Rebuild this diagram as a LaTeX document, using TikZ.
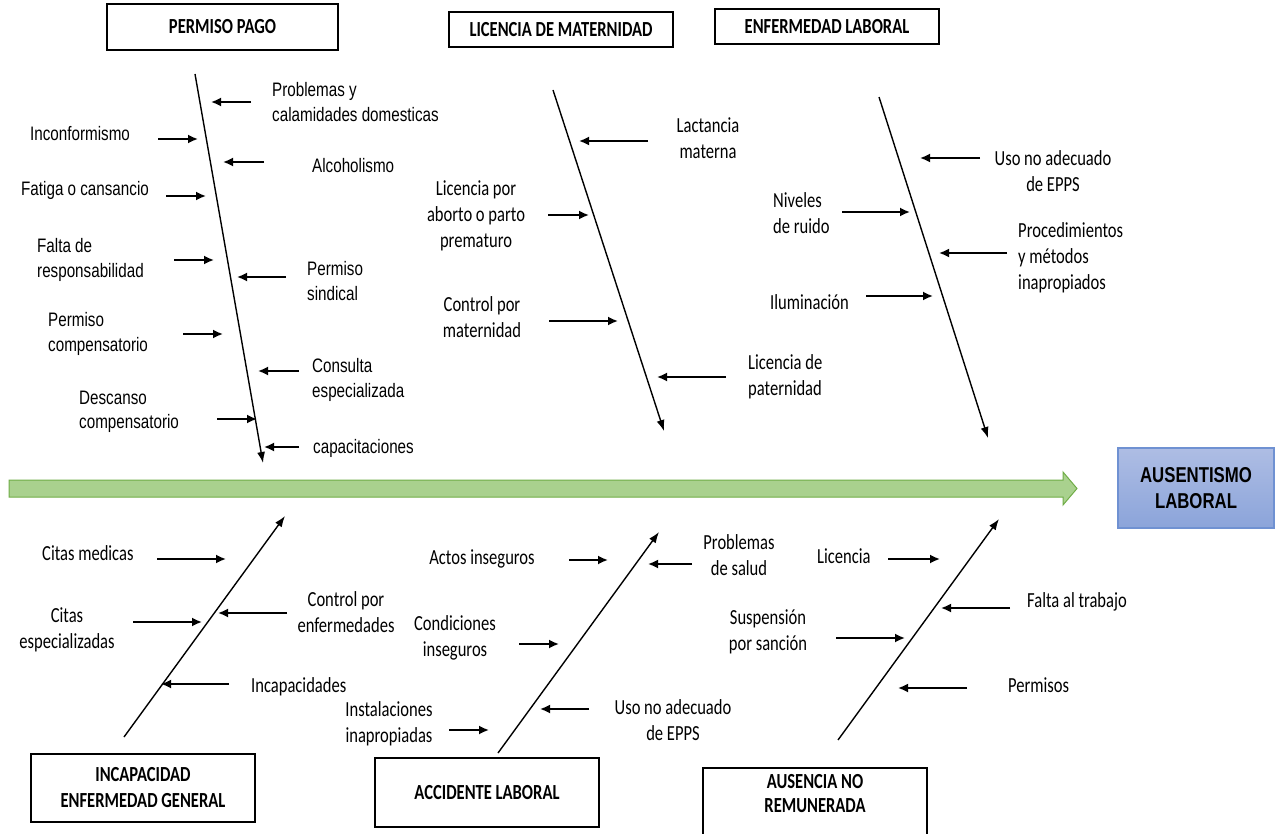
\documentclass[tikz,border=0pt]{standalone}
\usepackage{fontspec}
\setmainfont{Carlito}[FakeStretch=0.77]
\newfontfamily\arialf{Liberation Sans}[FakeStretch=0.78]
\usetikzlibrary{arrows.meta}
\definecolor{barfill}{HTML}{A9D18E}
\definecolor{barline}{HTML}{70AD47}
\definecolor{bluetop}{HTML}{AEBDE4}
\definecolor{bluebot}{HTML}{8BA4DA}
\definecolor{blueline}{HTML}{6F91D2}
\tikzset{
  lblA/.style={font=\arialf\fontsize{19.5}{24.5}\selectfont, inner sep=0pt, align=left},
  lblC/.style={font=\fontsize{21.5}{26}\selectfont, inner sep=0pt, align=center},
  catbox/.style={draw=black, line width=1.8pt, font=\bfseries\fontsize{21.5}{26}\selectfont, align=center, inner sep=0pt},
  spine/.style={line width=1.4pt, -{Latex[length=11pt,width=8pt]}},
  branch/.style={line width=1.8pt, -{Latex[length=10pt,width=9pt]}},
}
\begin{document}
\begin{tikzpicture}[x=1pt,y=-1pt]
\useasboundingbox (0,0) rectangle (1277,834);
\fill[white] (0,0) rectangle (1277,834);

% category boxes
\node[catbox, minimum width=231, minimum height=46] (pp) at (222.5,27) {PERMISO PAGO};
\node[catbox, minimum width=224, minimum height=35] (lm) at (561,29.5) {LICENCIA DE MATERNIDAD};
\node[catbox, minimum width=224, minimum height=35] (el) at (827,26.5) {ENFERMEDAD LABORAL};
\node[catbox, minimum width=224, minimum height=68] (ieg) at (143,788) {INCAPACIDAD\\ENFERMEDAD GENERAL};
\node[catbox, minimum width=224, minimum height=69] (al) at (487,792.5) {ACCIDENTE LABORAL};
\node[catbox, minimum width=224, minimum height=95, anchor=north] (anr) at (815,767) {};
\node[font=\bfseries\fontsize{21.5}{24}\selectfont, align=center, inner sep=0pt] (anrT) at (815,794) {AUSENCIA NO\\REMUNERADA};

% main arrow
\coordinate (g1) at (9,480);
\coordinate (g2) at (1063,480);
\coordinate (g3) at (1063,472);
\coordinate (g4) at (1077,488.5);
\coordinate (g5) at (1063,505);
\coordinate (g6) at (1063,497);
\coordinate (g7) at (9,497);
\draw[fill=barfill, draw=barline, line width=1pt] (g1) -- (g2) -- (g3) -- (g4) -- (g5) -- (g6) -- (g7) -- cycle;

% effect box
\node[draw=blueline, line width=1.2pt, top color=bluetop, bottom color=bluebot,
      minimum width=156, minimum height=80, inner sep=0pt, align=center,
      font=\arialf\bfseries\fontsize{21.5}{26}\selectfont] (aus) at (1196,488) {AUSENTISMO\\LABORAL};

% spines
\coordinate (s1a) at (195,74);   \coordinate (s1b) at (263,463);
\coordinate (s2a) at (553,90);   \coordinate (s2b) at (664,431);
\coordinate (s3a) at (879,97);   \coordinate (s3b) at (988,438);
\coordinate (s4a) at (124,737);  \coordinate (s4b) at (285,516);
\coordinate (s5a) at (498,753);  \coordinate (s5b) at (659,532);
\coordinate (s6a) at (838,740);  \coordinate (s6b) at (999,519);
\foreach \s in {s1,s2,s3,s4,s5,s6} { \draw[spine] (\s a) -- (\s b); }

% branch arrows
\foreach \n/\xa/\ya/\xb in {
  a1/251/102/211, a2/158/139/198, a3/264/162/223, a4/166/196/206, a5/174/260/214,
  a6/286/277/237, a7/183/334/223, a8/299/371/258, a9/217/419/257, a10/299/447/264,
  b1/648/141/579, b2/548/215/589, b3/549/321/618, b4/726/377/657,
  c1/980/158/920, c2/842/212/910, c3/1007/253/939, c4/866/296/933,
  d1/157/559/226, d2/133/622/202, d3/287/613/218, d4/229/684/161,
  e1/569/560/608, e2/692/564/648, e3/519/644/559, e4/589/709/540, e5/449/730/489,
  f1/888/559/940, f2/1010/608/941, f3/836/638/905, f4/967/688/898} {
  \coordinate (\n s) at (\xa,\ya);
  \coordinate (\n e) at (\xb,\ya);
  \draw[branch] (\n s) -- (\n e);
}

% labels: permiso pago
\node[lblA, anchor=west] (t1) at (272,102) {Problemas y\\calamidades domesticas};
\node[lblA, anchor=west] (t2) at (30,134) {Inconformismo};
\node[lblA, anchor=west] (t3) at (312,166) {Alcoholismo};
\node[lblA, anchor=west] (t4) at (21,190) {Fatiga o cansancio};
\node[lblA, anchor=west] (t5) at (37,260) {Falta de\\responsabilidad};
\node[lblA, anchor=west] (t6) at (307,281) {Permiso\\sindical};
\node[lblA, anchor=west] (t7) at (48,334) {Permiso\\compensatorio};
\node[lblA, anchor=west] (t8) at (312,380) {Consulta\\especializada};
\node[lblA, anchor=west] (t9) at (79,412) {Descanso\\compensatorio};
\node[lblA, anchor=west] (t10) at (313,448) {capacitaciones};

% labels: licencia de maternidad
\node[lblC] (u1) at (708,138) {Lactancia\\materna};
\node[lblC] (u2) at (476,216) {Licencia por\\aborto o parto\\prematuro};
\node[lblC] (u3) at (482,317) {Control por\\maternidad};
\node[lblC, anchor=west, align=left] (u4) at (748,377) {Licencia de\\paternidad};

% labels: enfermedad laboral
\node[lblC] (v1) at (1053,171) {Uso no adecuado\\de EPPS};
\node[lblC, anchor=west, align=left] (v2) at (773,213) {Niveles\\de ruido};
\node[lblC, anchor=west, align=left] (v3) at (1018,258) {Procedimientos\\y métodos\\inapropiados};
\node[lblC, anchor=west] (v4) at (770,302) {Iluminación};

% labels: incapacidad
\node[lblC, anchor=west] (w1) at (42,553) {Citas medicas};
\node[lblC] (w2) at (67,630) {Citas\\especializadas};
\node[lblC] (w3) at (346,612) {Control por\\enfermedades};
\node[lblC, anchor=west] (w4) at (251,687) {Incapacidades};

% labels: accidente laboral
\node[lblC] (x1) at (482,559) {Actos inseguros};
\node[lblC] (x2) at (455,638) {Condiciones\\inseguros};
\node[lblC] (x3) at (389,724) {Instalaciones\\inapropiadas};
\node[lblC] (x4) at (739,555) {Problemas\\de salud};
\node[lblC] (x5) at (673,720) {Uso no adecuado\\de EPPS};

% labels: ausencia no remunerada
\node[lblC, anchor=west] (y1) at (817,556) {Licencia};
\node[lblC] (y2) at (768,632) {Suspensión\\por sanción};
\node[lblC, anchor=west] (y3) at (1027,602) {Falta al trabajo};
\node[lblC, anchor=west] (y4) at (1008,685) {Permisos};
\end{tikzpicture}
\end{document}
